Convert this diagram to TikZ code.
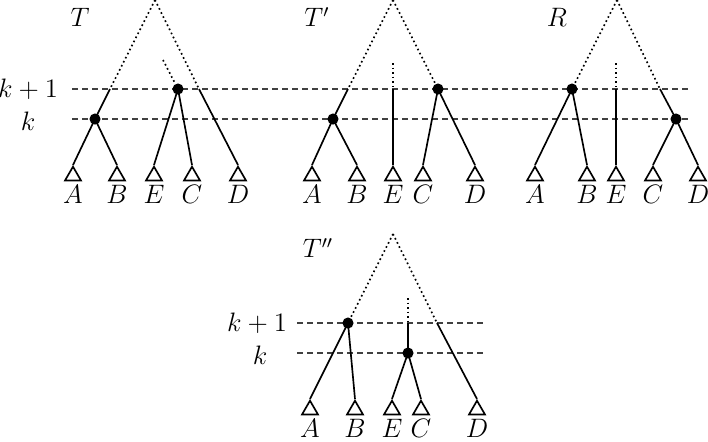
\documentclass[tikz,border=0pt]{standalone}
\usetikzlibrary{shapes.geometric}
\begin{document}
\begin{tikzpicture}[x=0.45pt,y=-0.45pt,
  every node/.style={font=\large},
  every label/.style={inner sep=1.5pt,font=\large},
  level/.style={draw=black!75,line width=0.5pt,dash pattern=on 2.7pt off 1.8pt},
  branch/.style={line width=0.75pt},
  dots/.style={line width=0.75pt,dash pattern=on 0.75pt off 1.3pt},
  dot/.style={circle,fill,inner sep=0pt,minimum size=5pt},
  leaf/.style={regular polygon,regular polygon sides=3,draw,line width=0.75pt,inner sep=0pt,minimum size=8.3pt,anchor=north},
  lowleaf/.style={leaf,every label/.style={inner sep=1pt,font=\large}},
  lvl/.style={inner sep=0pt}]
\useasboundingbox (0,0) rectangle (708,441);
% level lines top
\coordinate (L1a) at (72,89); \coordinate (L1b) at (692,89);
\coordinate (L0a) at (72,119); \coordinate (L0b) at (692,119);
\draw[level] (L1a) -- (L1b);
\draw[level] (L0a) -- (L0b);
\node[lvl] (k1top) at (28,89) {$k+1$};
\node[lvl] (k0top) at (28,121) {$k$};
% ---------- T ----------
\node (lT) at (80,17) {$T$};
\coordinate (tTop) at (155,0);
\coordinate (tL) at (110,89);
\coordinate (tR) at (199,89);
\coordinate (tM) at (163,60);
\node[dot] (ta1) at (95,119) {};
\node[dot] (ta2) at (178,89) {};
\node[leaf,label=below:$A$] (tA) at (73,165) {};
\node[leaf,label=below:$B$] (tB) at (117,165) {};
\node[leaf,label=below:$E$] (tE) at (154,165) {};
\node[leaf,label=below:$C$] (tC) at (192,165) {};
\node[leaf,label=below:$D$] (tD) at (238,165) {};
\draw[dots] (tTop) -- (tL);
\draw[dots] (tTop) -- (tR);
\draw[dots] (tM) -- (ta2);
\draw[branch] (tL) -- (ta1.center);
\draw[branch] (ta1.center) -- (tA.north);
\draw[branch] (ta1.center) -- (tB.north);
\draw[branch] (ta2.center) -- (tE.north);
\draw[branch] (ta2.center) -- (tC.north);
\draw[branch] (tR) -- (tD.north);
% ---------- T' ----------
\node (lTp) at (317,17) {$T'$};
\coordinate (pTop) at (393,0);
\coordinate (pL) at (348,89);
\coordinate (pEt) at (393,63);
\coordinate (pEm) at (393,89);
\node[dot] (pb1) at (333,119) {};
\node[dot] (pb2) at (438,89) {};
\node[leaf,label=below:$A$] (pA) at (312,165) {};
\node[leaf,label=below:$B$] (pB) at (357,165) {};
\node[leaf,label=below:$E$] (pE) at (393,165) {};
\node[leaf,label=below:$C$] (pC) at (423,165) {};
\node[leaf,label=below:$D$] (pD) at (475,165) {};
\draw[dots] (pTop) -- (pL);
\draw[dots] (pTop) -- (pb2);
\draw[dots] (pEt) -- (pEm);
\draw[branch] (pL) -- (pb1.center);
\draw[branch] (pb1.center) -- (pA.north);
\draw[branch] (pb1.center) -- (pB.north);
\draw[branch] (pEm) -- (pE.north);
\draw[branch] (pb2.center) -- (pC.north);
\draw[branch] (pb2.center) -- (pD.north);
% ---------- R ----------
\node (lR) at (557,17) {$R$};
\coordinate (rTop) at (617,0);
\coordinate (rR) at (660,89);
\coordinate (rEt) at (616,63);
\coordinate (rEm) at (616,89);
\node[dot] (rc1) at (572,89) {};
\node[dot] (rc2) at (676,119) {};
\node[leaf,label=below:$A$] (rA) at (535,165) {};
\node[leaf,label=below:$B$] (rB) at (587,165) {};
\node[leaf,label=below:$E$] (rE) at (616,165) {};
\node[leaf,label=below:$C$] (rC) at (653,165) {};
\node[leaf,label=below:$D$] (rD) at (698,165) {};
\draw[dots] (rTop) -- (rc1);
\draw[dots] (rTop) -- (rR);
\draw[dots] (rEt) -- (rEm);
\draw[branch] (rc1.center) -- (rA.north);
\draw[branch] (rc1.center) -- (rB.north);
\draw[branch] (rEm) -- (rE.north);
\draw[branch] (rR) -- (rc2.center);
\draw[branch] (rc2.center) -- (rC.north);
\draw[branch] (rc2.center) -- (rD.north);
% ---------- T'' ----------
\coordinate (M1a) at (297,323); \coordinate (M1b) at (483,323);
\coordinate (M0a) at (297,353); \coordinate (M0b) at (483,353);
\draw[level] (M1a) -- (M1b);
\draw[level] (M0a) -- (M0b);
\node[lvl] (k1bot) at (257,323) {$k+1$};
\node[lvl] (k0bot) at (260,355) {$k$};
\node (lTpp) at (318,248) {$T''$};
\coordinate (qTop) at (393,234);
\coordinate (qR) at (437,323);
\coordinate (qEt) at (408,298);
\coordinate (qEm) at (408,323);
\node[dot] (qd1) at (348,323) {};
\node[dot] (qd2) at (408,353) {};
\node[lowleaf,label=below:$A$] (qA) at (310,399) {};
\node[lowleaf,label=below:$B$] (qB) at (355,399) {};
\node[lowleaf,label=below:$E$] (qE) at (392,399) {};
\node[lowleaf,label=below:$C$] (qC) at (421,399) {};
\node[lowleaf,label=below:$D$] (qD) at (477,399) {};
\draw[dots] (qTop) -- (qd1);
\draw[dots] (qTop) -- (qR);
\draw[dots] (qEt) -- (qEm);
\draw[branch] (qd1.center) -- (qA.north);
\draw[branch] (qd1.center) -- (qB.north);
\draw[branch] (qEm) -- (qd2.center);
\draw[branch] (qd2.center) -- (qE.north);
\draw[branch] (qd2.center) -- (qC.north);
\draw[branch] (qR) -- (qD.north);
\end{tikzpicture}
\end{document}
